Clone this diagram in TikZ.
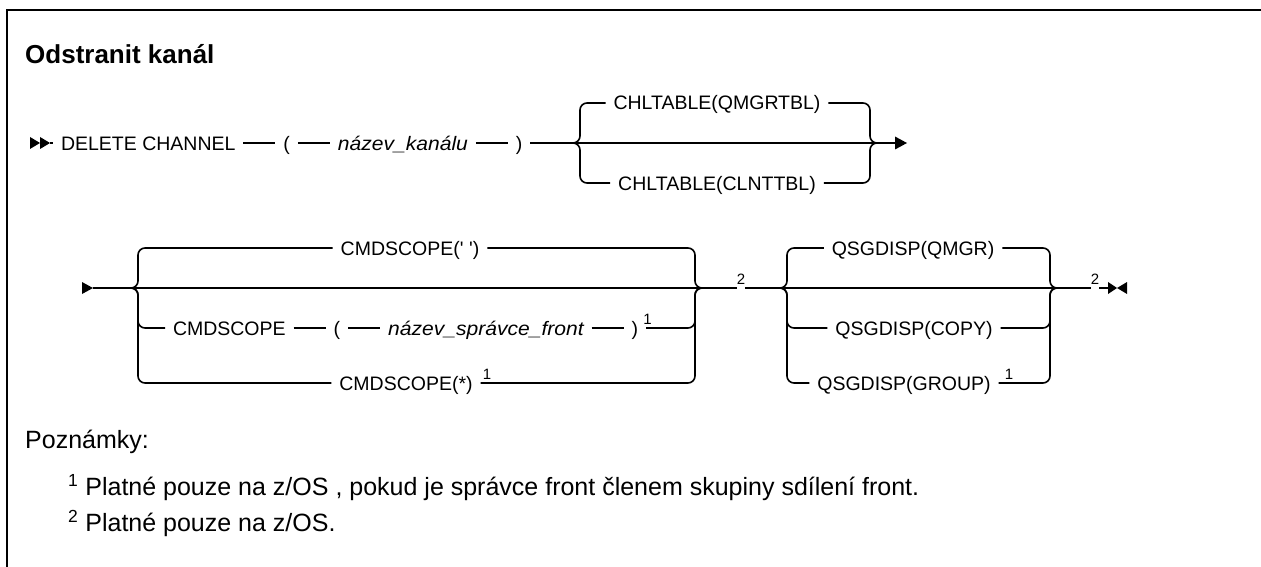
\documentclass[tikz,border=0pt]{standalone}
\usepackage{fontspec}
\setmainfont{Liberation Sans}
\newfontfamily\varfont{Liberation Sans}[FakeStretch=1.08]
\usetikzlibrary{positioning}

\begin{document}
\begin{tikzpicture}[x=1pt,y=-1pt,node distance=32pt,
  tok/.style={inner sep=0pt,outer xsep=8pt,text height=14pt,text depth=0pt,
              font=\fontsize{19.5}{22}\selectfont},
  var/.style={tok,font=\fontsize{19.5}{22}\varfont\itshape},
  fn/.style={inner sep=0pt,font=\fontsize{15}{17}\selectfont},
  note/.style={anchor=west,inner sep=0pt,font=\fontsize{25}{28}\selectfont},
  rail/.style={line width=1.6pt},
  brace/.style={rail,rounded corners=7pt}]
\useasboundingbox (0,0) rectangle (1261,567);
\draw[line width=2pt] (7,567) -- (7,10) -- (1261,10);
\node[anchor=west,inner sep=0pt,font=\fontsize{26}{30}\selectfont\bfseries] (title) at (25,54) {Odstranit kanál};

\coordinate (st1) at (30,143);
\node[tok,anchor=west] (del) at (53,143) {DELETE CHANNEL};
\node[tok,right=of del] (lp1) {(};
\node[var,right=of lp1] (nk) {název\_kanálu\hspace{8pt}};
\node[tok,right=of nk] (rp1) {)};
\coordinate (j1a) at (573,143);
\node[tok] (qmg) at (717,103) {CHLTABLE(QMGRTBL)};
\node[tok] (clt) at (717,183) {CHLTABLE(CLNTTBL)};
\coordinate (j1b) at (877,143);
\coordinate (e1) at (895,143);
\fill (st1) +(0,-6) -- +(10,0) -- +(0,6) -- cycle;
\fill ([xshift=10pt]st1) +(0,-6) -- +(10,0) -- +(0,6) -- cycle;
\draw[rail] ([xshift=20pt]st1) -- (del);
\draw[rail] (del) -- (lp1); \draw[rail] (lp1) -- (nk);
\draw[rail] (nk) -- (rp1); \draw[rail] (rp1) -- (j1a);
\draw[rail] (j1a) -- (e1);
\draw[brace] (j1a) -- ([xshift=7pt]j1a) |- (qmg.west);
\draw[brace] (j1a) -- ([xshift=7pt]j1a) |- (clt.west);
\draw[brace] (qmg.east) -| ([xshift=-7pt]j1b) -- (j1b);
\draw[brace] (clt.east) -| ([xshift=-7pt]j1b) -- (j1b);
\fill (e1) +(0,-6.5) -- +(12,0) -- +(0,6.5) -- cycle;

\coordinate (st2) at (82,288);
\coordinate (j2a) at (131,288);
\node[tok] (csb) at (410,248) {CMDSCOPE(\textquotesingle\ \textquotesingle)};
\node[tok,anchor=west] (csq) at (165,328) {CMDSCOPE};
\node[tok,right=of csq] (lp2) {(};
\node[var,right=of lp2] (qmn) {název\_správce\_front\hspace{8pt}};
\node[tok,right=of qmn] (rp2) {)};
\node[fn,anchor=south west] (f1a) at ([xshift=-3pt,yshift=3pt]rp2.east) {1};
\node[tok] (csa) at (406,383) {CMDSCOPE(*)};
\node[fn,anchor=south west] (f1b) at ([xshift=2pt,yshift=3pt]csa.east) {1};
\coordinate (j2b) at (702,288);
\node[fn,anchor=south] (f2a) at (741,285) {2};
\coordinate (j3a) at (780,288);
\node[tok] (qsm) at (913,248) {QSGDISP(QMGR)};
\node[tok] (qsc) at (914,328) {QSGDISP(COPY)};
\node[tok] (qsg) at (904,383) {QSGDISP(GROUP)};
\node[fn,anchor=south west] (f1c) at ([xshift=6pt,yshift=3pt]qsg.east) {1};
\coordinate (j3b) at (1057,288);
\node[fn,anchor=south] (f2b) at (1095,285) {2};
\coordinate (e2) at (1108,288);
\fill (st2) +(0,-6) -- +(11,0) -- +(0,6) -- cycle;
\draw[rail] ([xshift=11pt]st2) -- (j2a);
\draw[rail] (j2a) -- (j2b);
\draw[brace] (j2a) -- ([xshift=7pt]j2a) |- (csb.west);
\draw[brace] (j2a) -- ([xshift=7pt]j2a) |- (csq.west);
\draw[brace] (j2a) -- ([xshift=7pt]j2a) |- (csa.west);
\draw[rail] (csq) -- (lp2); \draw[rail] (lp2) -- (qmn); \draw[rail] (qmn) -- (rp2);
\draw[brace] (csb.east) -| ([xshift=-7pt]j2b) -- (j2b);
\draw[brace] (rp2.east) -| ([xshift=-7pt]j2b) -- (j2b);
\draw[brace] (csa.east) -| ([xshift=-7pt]j2b) -- (j2b);
\draw[rail] (j2b) -- (f2a.west |- j2b);
\draw[rail] (f2a.east |- j2b) -- (j3a);
\draw[rail] (j3a) -- (j3b);
\draw[brace] (j3a) -- ([xshift=7pt]j3a) |- (qsm.west);
\draw[brace] (j3a) -- ([xshift=7pt]j3a) |- (qsc.west);
\draw[brace] (j3a) -- ([xshift=7pt]j3a) |- (qsg.west);
\draw[brace] (qsm.east) -| ([xshift=-7pt]j3b) -- (j3b);
\draw[brace] (qsc.east) -| ([xshift=-7pt]j3b) -- (j3b);
\draw[brace] (qsg.east) -| ([xshift=-7pt]j3b) -- (j3b);
\draw[rail] (j3b) -- (f2b.west |- j3b);
\draw[rail] (f2b.east |- j3b) -- (e2);
\fill (e2) +(0,-6) -- +(9,0) -- +(0,6) -- cycle;
\fill ([xshift=19pt]e2) +(0,-6) -- +(-10,0) -- +(0,6) -- cycle;

\node[note] (pozn) at (25,442) {Poznámky:};
\node[note] (n1) at (68,488) {\textsuperscript{1} Platné pouze na z/OS , pokud je správce front členem skupiny sdílení front.};
\node[note] (n2) at (68,523) {\textsuperscript{2} Platné pouze na z/OS.};
\end{tikzpicture}
\end{document}
